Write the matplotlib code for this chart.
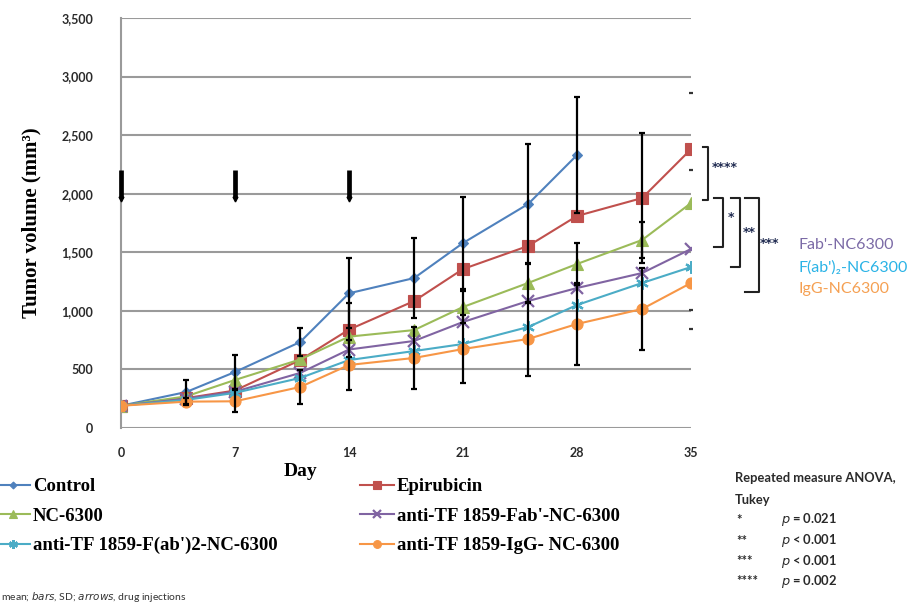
import numpy as np
import matplotlib.pyplot as plt
from matplotlib.ticker import FuncFormatter

# data
days = [0, 4, 7, 11, 14, 18, 21, 25, 28, 32, 35]
control = [190, 307, 478, 734, 1150, 1280, 1579, 1912, 2330]
epirubicin = [190, 255, 320, 580, 840, 1084, 1357, 1554, 1810, 1963, 2380]
nc6300 = [190, 270, 410, 585, 780, 836, 1033, 1238, 1400, 1605, 1920]
fab = [190, 250, 310, 470, 670, 743, 905, 1084, 1195, 1323, 1528]
fab2 = [190, 240, 300, 427, 580, 657, 717, 862, 1050, 1238, 1374]
igg = [190, 225, 228, 350, 538, 598, 674, 760, 888, 1016, 1238]

control_sd = [0, 100, 145, 120, 300, 342, 393, 512, 496]
epirubicin_sd = [0, 0, 0, 0, 230, 0, 0, 0, 0, 555, 0]
nc6300_sd = [0, 0, 0, 0, 0, 0, 137, 170, 180, 150, 0]
igg_sd = [0, 30, 93, 145, 214, 265, 290, 316, 350, 350, 0]

injection_days = [0, 7, 14]
day35_caps = [2860, 2202, 1007, 845]

labels = ['Control', 'Epirubicin', 'NC-6300', "anti-TF 1859-Fab'-NC-6300",
          "anti-TF 1859-F(ab')2-NC-6300", 'anti-TF 1859-IgG- NC-6300']
colors = ['#4F81BD', '#C0504D', '#9BBB59', '#8064A2', '#4BACC6', '#F79646']
markers = ['D', 's', '^', 'x', (6, 2, 0), 'o']
msizes = [5, 8, 8, 9, 9, 8]

series = [control, epirubicin, nc6300, fab, fab2, igg]
sds = [control_sd, epirubicin_sd, nc6300_sd, None, None, igg_sd]

fig = plt.figure(figsize=(9.22, 6.06), dpi=100)
ax = fig.add_axes([121/922, 1 - 428/606, 570/922, 410/606])

handles = []
for vals, sd, c, m, ms, lab in zip(series, sds, colors, markers, msizes, labels):
    x = days[:len(vals)]
    if sd is not None:
        xs = [d for d, s in zip(x, sd) if s > 0]
        ys = [v for v, s in zip(vals, sd) if s > 0]
        es = [s for s in sd if s > 0]
        ax.errorbar(xs, ys, yerr=es, fmt='none', ecolor='black', elinewidth=1.6,
                    capsize=2.5, capthick=1.6, zorder=4)
    mew = 1.6 if m == 'x' or isinstance(m, tuple) else 0.8
    h, = ax.plot(x, vals, color=c, marker=m, ms=ms, lw=1.5, mew=mew,
                 mec=c, mfc=c, zorder=3, label=lab)
    handles.append(h)

ax.plot([35]*len(day35_caps), day35_caps, ls='none', marker='_', ms=3,
        mew=1.6, color='#333333', clip_on=False)

# injection arrows
ax.vlines(injection_days, 1965, 2200, color='black', lw=3.4, zorder=5, clip_on=False)
ax.plot(injection_days, [1955]*len(injection_days), ls='none', marker='v', ms=3.5,
        color='black', zorder=5, clip_on=False)

ax.set_xlim(0, 35)
ax.set_ylim(0, 3500)
ax.set_xticks([0, 7, 14, 21, 28, 35])
ax.set_yticks(np.arange(0, 3501, 500))
ax.yaxis.set_major_formatter(FuncFormatter(lambda v, p: f'{int(v):,}'))
ax.grid(axis='y', color='#9a9a9a', lw=1.5)
ax.set_axisbelow(True)
for s in ['top', 'right', 'bottom']:
    ax.spines[s].set_visible(False)
ax.spines['left'].set_color('#9a9a9a')
ax.spines['left'].set_linewidth(1.5)
ax.tick_params(length=0, pad=14)
ax.tick_params(axis='y', pad=20)
for t in ax.get_xticklabels() + ax.get_yticklabels():
    t.set_fontfamily('Lato')
    t.set_fontweight('bold')
    t.set_fontsize(9)
    t.set_color('#2a2a2a')

ax.set_ylabel('Tumor volume (mm³)', family='Liberation Serif',
              weight='bold', fontsize=15, labelpad=14)
fig.text(300/922, 1 - 471/606, 'Day', family='Liberation Serif', weight='bold',
         fontsize=14, ha='center', va='center')

# significance brackets
brackets = [(35.74, 36.04, 2399, 1946, '****', 36.3, 2220),
            (36.41, 36.96, 1963, 1545, '*', 37.25, 1793),
            (37.45, 38.0, 1963, 1374, '**', 38.2, 1673),
            (38.3, 39.17, 1963, 1161, '***', 39.25, 1571)]
for x0, x1, top, bot, lab, tx, ty in brackets:
    ax.plot([x0, x1, x1, x0], [top, top, bot, bot], color='#222222', lw=1.5,
            clip_on=False)
    ax.text(tx, ty, lab, color='#1f2a50', fontsize=9, weight='bold',
            va='center', ha='left', clip_on=False)

side_labels = ["Fab'-NC6300", "F(ab')₂-NC6300", 'IgG-NC6300']
side_vals = [1562, 1366, 1190]
side_colors = ['#7b6aa6', '#2ab3e6', '#f5a052']
for lab, v, c in zip(side_labels, side_vals, side_colors):
    ax.text(41.6, v, lab, color=c, fontsize=11.5, family=['Lato', 'DejaVu Sans'],
            va='center', ha='left', clip_on=False)

# legend in two columns
leg_kw = dict(frameon=False, prop={'family': 'Liberation Serif', 'weight': 'bold',
                                   'size': 13.5},
              handlelength=1.8, handletextpad=0.15, labelspacing=0.66,
              borderaxespad=0, borderpad=0, markerscale=0.7)
fig.legend([handles[0], handles[2], handles[4]], [labels[0], labels[2], labels[4]],
           loc='upper left', bbox_to_anchor=(-0.004, 1 - 478/606), **leg_kw)
fig.legend([handles[1], handles[3], handles[5]], [labels[1], labels[3], labels[5]],
           loc='upper left', bbox_to_anchor=(360/922, 1 - 478/606), **leg_kw)

# footnote
fig.text(0.001, 1 - 597/606, 'mean; $\\it{bars}$, SD; $\\it{arrows}$, drug injections',
         family='Lato', fontsize=7.5, color='#333333', va='center')

# stats notes
sx = 735/922
note_kw = dict(family='Lato', fontsize=9.3, weight='bold', color='#2a2a2a', va='center')
fig.text(sx, 1 - 478/606, 'Repeated measure ANOVA,', **note_kw)
fig.text(sx, 1 - 500/606, 'Tukey', **note_kw)
stars = ['*', '**', '***', '****']
pvals = ['p = 0.021', 'p < 0.001', 'p < 0.001', 'p = 0.002']
for i, (st, pv) in enumerate(zip(stars, pvals)):
    yy = 1 - (520 + 20.5*i)/606
    fig.text(sx + 1/922, yy, st, **note_kw)
    fig.text(781/922, yy, '$\\it{p}$' + pv[1:], **note_kw)

fig.savefig('out.png', dpi=100)
